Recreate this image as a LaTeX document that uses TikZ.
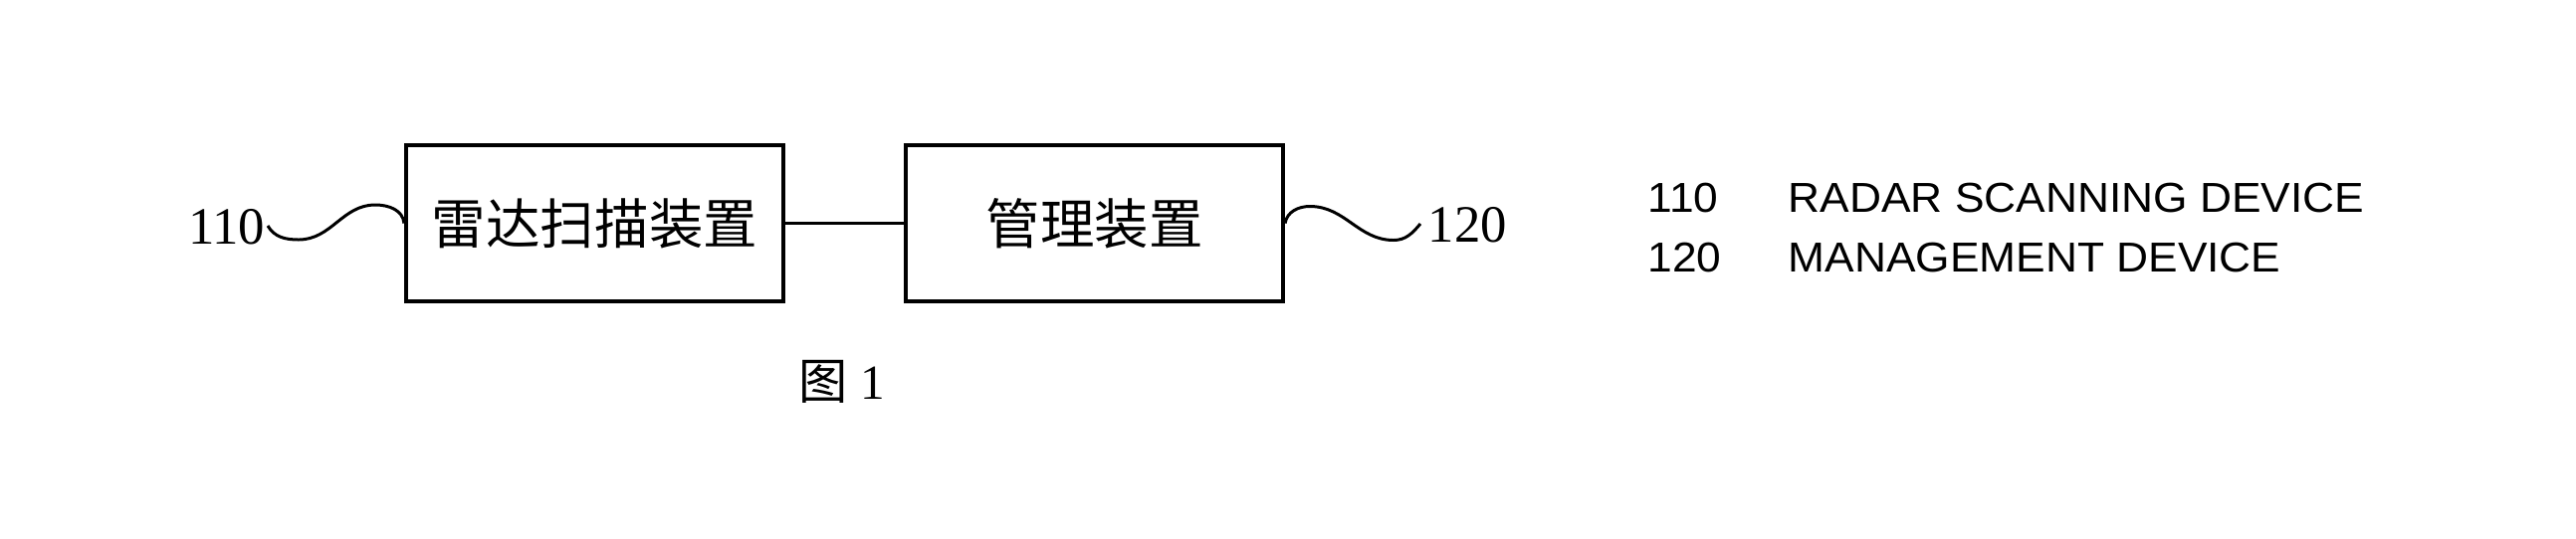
\documentclass[tikz,border=0pt]{standalone}
\usepackage{fontspec}
\setmainfont{Liberation Serif}
\newfontfamily\cjk{Noto Sans CJK SC}
\newfontfamily\legendfont{Liberation Sans}
\usetikzlibrary{positioning}

\tikzset{
  unitbox/.style = {draw, line width=1.1pt, minimum width=3.79cm, minimum height=1.57cm,
                    inner sep=0pt, font=\cjk\fontsize{15.5}{18}\selectfont},
  refnum/.style  = {inner sep=0pt, font=\fontsize{15}{18}\selectfont},
  wire/.style    = {line width=0.85pt},
  legend/.style  = {inner sep=0pt, anchor=base west, font=\legendfont\fontsize{12.6}{15}\selectfont}
}

\begin{document}
\begin{tikzpicture}[x=0.01cm, y=0.01cm]
      \useasboundingbox (0,0) rectangle (2588,541);
      \node[unitbox] (radar) at (597.5,316.5) {雷达扫描装置};
      \node[unitbox] (mgmt)  at (1099.5,316.5) {管理装置};
      \draw[wire] (radar.east) -- (mgmt.west);

      \coordinate (w110) at (269,314);
      \coordinate (w120) at (1427,316);
      \node[refnum, anchor=base east] (n110) at (267,296) {110};
      \node[refnum, anchor=base west] (n120) at (1434,298) {120};
      \draw[wire] (w110) to[out=-60,in=180] ++(31,-14)
                         to[out=0,in=180] ++(77,35)
                         to[out=0,in=95] (radar.west);
      \draw[wire] (mgmt.east) to[out=80,in=180] ++(25,17)
                         to[out=0,in=180] ++(84,-34)
                         to[out=0,in=-130] (w120);

      \node[inner sep=0pt, anchor=base, font=\fontsize{14}{17}\selectfont] (fig) at (846,140)
            {{\cjk 图}\ 1};

      \node[legend] (k110) at (1655,328) {\scalebox{1}[0.95]{110}};
      \node[legend] (t110) at (1796,328) {\scalebox{1}[0.95]{RADAR SCANNING DEVICE}};
      \node[legend] (k120) at (1655,268) {\scalebox{1}[0.95]{120}};
      \node[legend] (t120) at (1796,268) {\scalebox{1}[0.95]{MANAGEMENT DEVICE}};
\end{tikzpicture}
\end{document}
